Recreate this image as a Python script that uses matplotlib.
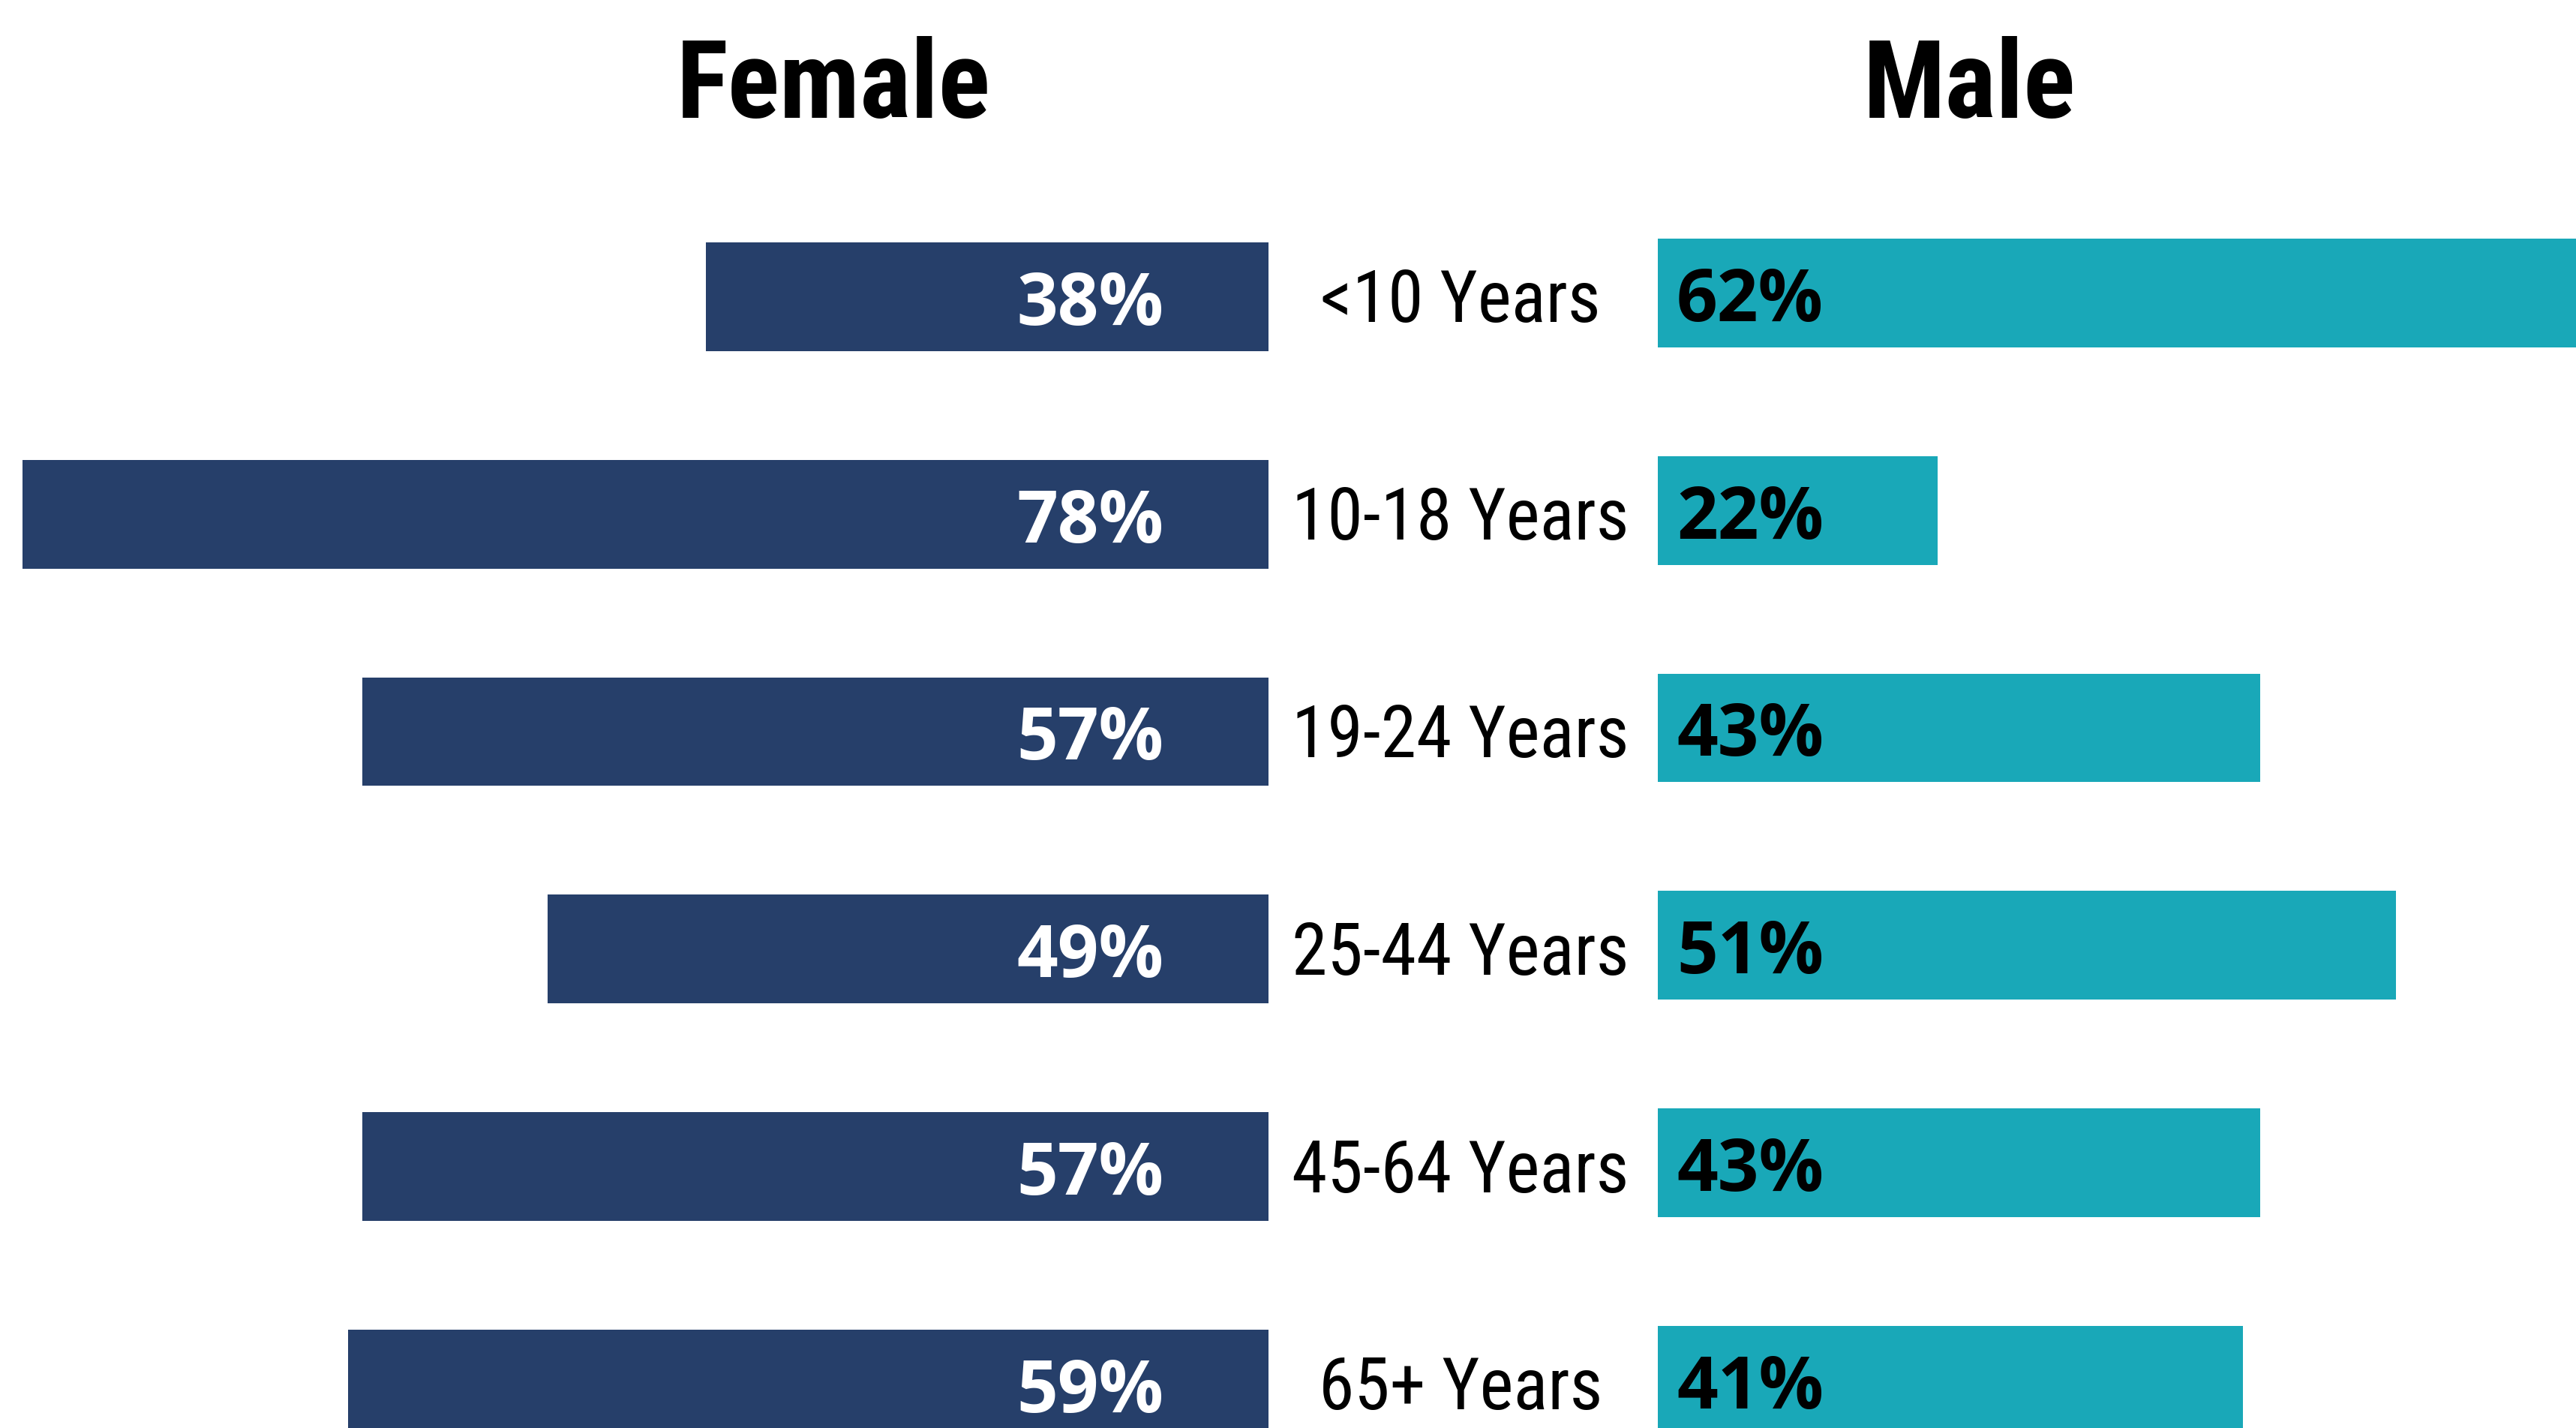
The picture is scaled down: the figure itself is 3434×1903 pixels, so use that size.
import matplotlib
matplotlib.use("Agg")
import matplotlib.pyplot as plt
from matplotlib import font_manager as fm

# ---- data ----
categories = ["<10 Years", "10-18 Years", "19-24 Years", "25-44 Years", "45-64 Years", "65+ Years"]
female_pct = [38, 78, 57, 49, 57, 59]
male_pct = [62, 22, 43, 51, 43, 41]
# bar lengths as drawn in the picture (percentage units)
female_bar = [35.2, 78.0, 56.7, 45.1, 56.7, 57.6]
male_bar = [60.0, 17.5, 37.7, 46.2, 37.7, 36.6]

# ---- fonts ----
names = {f.name for f in fm.fontManager.ttflist}
def pick(*cands):
    for c in cands:
        if c in names:
            return c
    return "DejaVu Sans"
cond_font = pick("Roboto Condensed", "Liberation Sans Narrow", "Roboto")
pct_font = pick("Open Sans", "Noto Sans")

FEMALE_C = "#263F6A"
MALE_C = "#19A8B8"

W, H, DPI = 3434, 1903, 100
fig = plt.figure(figsize=(W / DPI, H / DPI), dpi=DPI)
fig.patch.set_facecolor("white")

k = 21.3          # px per percentage unit
step = 289.75     # px per row
f_right = 1691
m_left = 2210
f_c0 = 395.5
m_c0 = 390.5

axf = fig.add_axes([0, 0, f_right / W, 1])
axm = fig.add_axes([m_left / W, 0, (W - m_left) / W, 1])
axf.set_xlim(f_right / k, 0)
axm.set_xlim(0, (W - m_left) / k)
axf.set_ylim((H - f_c0) / step, -f_c0 / step)
axm.set_ylim((H - m_c0) / step, -m_c0 / step)
for ax in (axf, axm):
    ax.axis("off")

ys = list(range(len(categories)))
axf.barh(ys, female_bar, height=0.5, color=FEMALE_C, left=0)
axm.barh(ys, male_bar, height=0.5, color=MALE_C, left=0)

for i, (fp, mp) in enumerate(zip(female_pct, male_pct)):
    axf.annotate(f"{fp}%", xy=(0, i), xytext=(-140, -37.5), textcoords="offset pixels",
                 ha="right", va="baseline", color="white", fontsize=69,
                 fontweight="bold", family=pct_font)
    axm.annotate(f"{mp}%", xy=(0, i), xytext=(25, -37.5), textcoords="offset pixels",
                 ha="left", va="baseline", color="black", fontsize=69,
                 fontweight="bold", family=pct_font)
    axf.annotate(categories[i], xy=(1947 / W, i), xycoords=("figure fraction", "data"),
                 xytext=(0, -34), textcoords="offset pixels",
                 ha="center", va="baseline", color="black", fontsize=69,
                 family=cond_font)

fig.text(1111 / W, 1 - 157 / H, "Female", ha="center", va="baseline", fontsize=104,
         fontweight="bold", family=cond_font, color="black")
fig.text(2625 / W, 1 - 157 / H, "Male", ha="center", va="baseline", fontsize=104,
         fontweight="bold", family=cond_font, color="black")

fig.savefig("out.png", dpi=DPI, facecolor="white")
